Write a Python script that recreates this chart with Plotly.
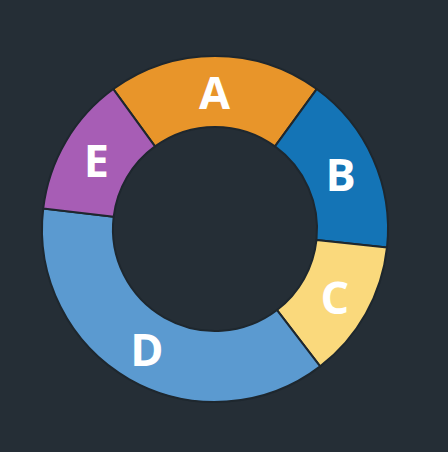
import plotly.graph_objects as go

labels = ["A", "B", "C", "D", "E"]
values = [20, 16.7, 12.9, 37.3, 13.1]
colors = ["#E8952A", "#1474B6", "#FAD97C", "#5B9AD0", "#A75DB5"]

fig = go.Figure(go.Pie(
    labels=labels,
    values=values,
    sort=False,
    direction="clockwise",
    rotation=-36,
    hole=0.59,
    marker=dict(colors=colors, line=dict(color="#1E272E", width=2)),
    textinfo="label",
    textposition="inside",
    insidetextorientation="horizontal",
    textfont=dict(family="Open Sans", size=45, color="white", weight="bold"),
    showlegend=False,
    hoverinfo="label+percent",
))

fig.update_layout(
    width=448, height=452,
    margin=dict(l=42, r=60, t=56, b=50),
    paper_bgcolor="#252E36",
    plot_bgcolor="#252E36",
)

fig.write_html(
    "out.html",
    config={"displayModeBar": False},
    post_script="document.body.style.margin='0';document.body.style.background='#252E36';",
)
